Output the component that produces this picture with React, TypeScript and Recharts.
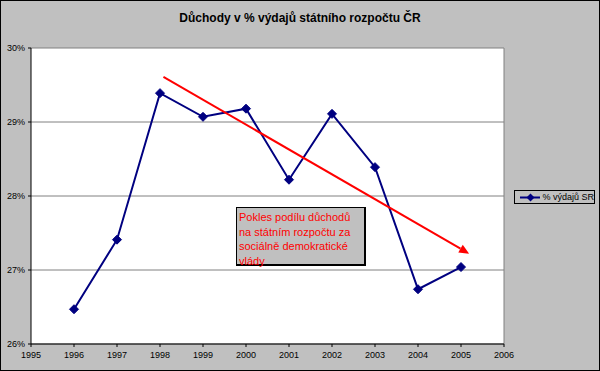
import React from 'react';
import { LineChart, Line, XAxis, YAxis, CartesianGrid, ReferenceLine } from 'recharts';

const chartTitle = 'Důchody v % výdajů státního rozpočtu ČR';
const seriesName = '% výdajů SR';
const years = [1996, 1997, 1998, 1999, 2000, 2001, 2002, 2003, 2004, 2005];
const shares = [26.47, 27.41, 29.39, 29.07, 29.18, 28.22, 29.11, 28.39, 26.74, 27.04];
const xTicks = [1995, 1996, 1997, 1998, 1999, 2000, 2001, 2002, 2003, 2004, 2005, 2006];
const yTicks = [26, 27, 28, 29, 30];
const arrowYears = [1998.08, 2005.19];
const arrowValues = [29.61, 27.22];
const noteLines = ['Pokles podílu důchodů', 'na státním rozpočtu za', 'sociálně demokratické', 'vlády'];

const data = years.map((year, i) => ({ year, value: shares[i] }));

const FONT = '"Liberation Sans", Arial, sans-serif';
const NAVY = '#000080';

const Diamond = (props: any) => {
  const { cx, cy } = props;
  if (cx == null || cy == null) return null;
  const r = 4.5;
  return (
    <polygon
      points={`${cx},${cy - r} ${cx + r},${cy} ${cx},${cy + r} ${cx - r},${cy}`}
      fill={NAVY}
      stroke={NAVY}
      strokeWidth={1}
    />
  );
};

const ArrowShape = (props: any) => {
  const { x1, y1, x2, y2 } = props;
  if ([x1, y1, x2, y2].some((v) => v == null || isNaN(v))) return null;
  const dx = x2 - x1;
  const dy = y2 - y1;
  const len = Math.sqrt(dx * dx + dy * dy);
  const ux = dx / len;
  const uy = dy / len;
  const headLen = 10;
  const headHalf = 4.5;
  const bx = x2 - ux * headLen;
  const by = y2 - uy * headLen;
  const px = -uy;
  const py = ux;
  return (
    <g>
      <line x1={x1} y1={y1} x2={bx} y2={by} stroke="#ff0000" strokeWidth={2} />
      <polygon
        points={`${x2},${y2} ${bx + px * headHalf},${by + py * headHalf} ${bx - px * headHalf},${by - py * headHalf}`}
        fill="#ff0000"
      />
    </g>
  );
};

const LegendBox = () => (
  <div
    style={{
      position: 'absolute',
      left: 513,
      top: 189,
      border: '1px solid #000',
      background: '#c0c0c0',
      width: 81,
      height: 14,
      boxSizing: 'border-box',
      display: 'flex',
      alignItems: 'center',
      fontFamily: FONT,
      fontSize: 9,
      color: '#000',
      whiteSpace: 'nowrap',
    }}
  >
    <svg width={22} height={11} style={{ marginLeft: 5, marginRight: 2 }}>
      <line x1={0} y1={5.5} x2={21} y2={5.5} stroke={NAVY} strokeWidth={2} />
      <polygon points="10.5,1.5 14.5,5.5 10.5,9.5 6.5,5.5" fill={NAVY} />
    </svg>
    <span>{seriesName}</span>
  </div>
);

export default function App() {
  return (
    <div
      style={{
        position: 'absolute',
        left: 0,
        top: 0,
        width: 600,
        height: 371,
        background: '#c0c0c0',
        boxSizing: 'border-box',
        border: '1px solid #000',
        overflow: 'hidden',
      }}
    >
      <div
        style={{
          position: 'absolute',
          left: 0,
          top: 10,
          width: 598,
          textAlign: 'center',
          fontFamily: FONT,
          fontWeight: 'bold',
          fontSize: 12,
          color: '#000',
        }}
      >
        {chartTitle}
      </div>
      <div style={{ position: 'absolute', left: -1, top: -1 }}>
        <LineChart width={600} height={371} data={data} margin={{ top: 48, right: 96, bottom: 0, left: 0 }}>
          <CartesianGrid horizontal vertical={false} stroke="#808080" fill="#ffffff" />
          <XAxis
            dataKey="year"
            type="number"
            domain={[1995, 2006]}
            ticks={xTicks}
            interval={0}
            height={27}
            tickSize={3}
            tickMargin={5}
            stroke="#000"
            tick={{ fill: '#000', fontSize: 9, fontFamily: FONT }}
            tickLine={{ stroke: '#000' }}
            allowDecimals={false}
          />
          <YAxis
            type="number"
            domain={[26, 30]}
            ticks={yTicks}
            interval={0}
            width={31}
            tickSize={3}
            tickMargin={3}
            stroke="#000"
            tick={{ fill: '#000', fontSize: 9, fontFamily: FONT }}
            tickLine={{ stroke: '#000' }}
            tickFormatter={(v: number) => `${v}%`}
          />
          <ReferenceLine x={2006} stroke="#808080" strokeWidth={1} />
          <Line
            type="linear"
            dataKey="value"
            name={seriesName}
            stroke={NAVY}
            strokeWidth={2}
            dot={<Diamond />}
            activeDot={false}
            isAnimationActive={false}
          />
          <ReferenceLine
            segment={[
              { x: arrowYears[0], y: arrowValues[0] },
              { x: arrowYears[1], y: arrowValues[1] },
            ]}
            shape={<ArrowShape />}
            ifOverflow="visible"
          />
        </LineChart>
      </div>
      <LegendBox />
      <div
        style={{
          position: 'absolute',
          left: 235,
          top: 206,
          width: 130,
          height: 59,
          boxSizing: 'border-box',
          background: '#c0c0c0',
          border: '1px solid #000',
          borderRightWidth: 2,
          borderBottomWidth: 2,
          padding: '2px 0 0 2px',
          fontFamily: FONT,
          fontSize: 11,
          lineHeight: '14.5px',
          color: '#ff0000',
          whiteSpace: 'nowrap',
        }}
      >
        {noteLines.map((t, i) => (
          <div key={i}>{t}</div>
        ))}
      </div>
    </div>
  );
}
